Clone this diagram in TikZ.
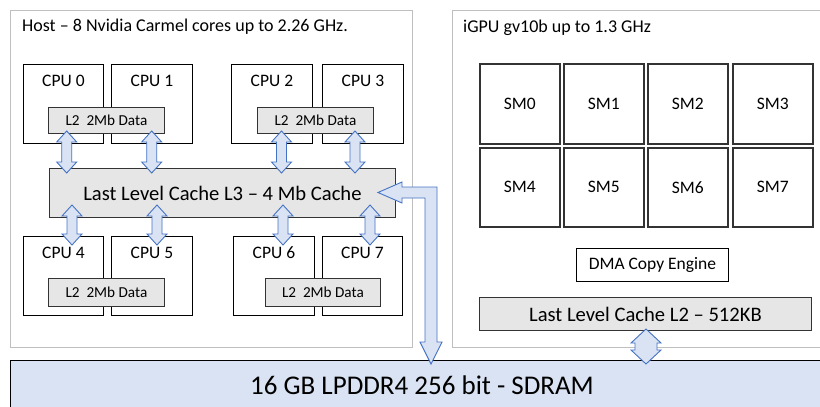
\documentclass[tikz,border=0pt]{standalone}
\usepackage{fontspec}
\setmainfont{Carlito}
\usetikzlibrary{calc}
\definecolor{grayfill}{HTML}{E6E6E6}
\definecolor{framecol}{HTML}{BFBFBF}
\definecolor{memfill}{HTML}{DAE3F3}
\definecolor{arrline}{HTML}{4472C4}
\newcommand{\fsz}[1]{\fontsize{#1}{#1}\selectfont}
% cx, ytop, ybot, shaft half width, head half width, head length
\newcommand{\vdarr}[6]{%
  \draw[blockarr] (#1,#2) -- (#1+#5,#2+#6) -- (#1+#4,#2+#6) -- (#1+#4,#3-#6)
    -- (#1+#5,#3-#6) -- (#1,#3) -- (#1-#5,#3-#6) -- (#1-#4,#3-#6)
    -- (#1-#4,#2+#6) -- (#1-#5,#2+#6) -- cycle;}
\tikzset{
  outer/.style={draw=framecol, line width=1.3pt, fill=white, anchor=north west, inner sep=0},
  cpubox/.style={draw=black, line width=0.9pt, fill=white, anchor=north west, inner sep=0},
  l2box/.style={draw=black!80, line width=0.9pt, fill=grayfill, anchor=north west, inner sep=0},
  smbox/.style={draw=black!80, line width=1.6pt, fill=white, anchor=north west, inner sep=0,
    minimum width=80pt, minimum height=80pt, font=\fsz{17.5}},
  lbl/.style={inner sep=0, text=black},
  blockarr/.style={draw=arrline, line width=0.9pt, fill=memfill, line join=miter},
}
\begin{document}
\begin{tikzpicture}[x=1pt,y=-1pt]
\clip (0,0) rectangle (820,407);
\fill[white] (0,0) rectangle (820,407);

% Host
\node[outer, minimum width=402pt, minimum height=337pt] (host) at (10,10) {};
\node[lbl, anchor=west, font=\fsz{18}] (hosttitle) at (22,27) {Host – 8 Nvidia Carmel cores up to 2.26 GHz.};

\node[cpubox, minimum width=80pt, minimum height=79pt] (cpu0) at (23,64) {};
\node[cpubox, minimum width=81pt, minimum height=79pt] (cpu1) at (111,64) {};
\node[cpubox, minimum width=81pt, minimum height=79pt] (cpu2) at (231,64) {};
\node[cpubox, minimum width=81pt, minimum height=79pt] (cpu3) at (322,64) {};
\node[cpubox, minimum width=80pt, minimum height=79pt] (cpu4) at (23,236) {};
\node[cpubox, minimum width=81pt, minimum height=79pt] (cpu5) at (111,236) {};
\node[cpubox, minimum width=81pt, minimum height=79pt] (cpu6) at (233,236) {};
\node[cpubox, minimum width=80pt, minimum height=79pt] (cpu7) at (322,236) {};

\foreach \n/\t in {cpu0/CPU 0,cpu1/CPU 1,cpu2/CPU 2,cpu3/CPU 3,cpu4/CPU 4,cpu5/CPU 5,cpu6/CPU 6,cpu7/CPU 7}
  \node[lbl, font=\fsz{17.5}] at ($(\n.north)+(0,16.5)$) {\t};

\node[l2box, minimum width=116pt, minimum height=26pt, font=\fsz{15.2}] (l2a) at (48,107) {L2\ \ 2Mb Data};
\node[l2box, minimum width=116pt, minimum height=26pt, font=\fsz{15.2}] (l2b) at (257,107) {L2\ \ 2Mb Data};
\node[l2box, minimum width=116pt, minimum height=28pt, font=\fsz{15.2}] (l2c) at (48,278) {L2\ \ 2Mb Data};
\node[l2box, minimum width=115pt, minimum height=28pt, font=\fsz{15.2}] (l2d) at (265,278) {L2\ \ 2Mb Data};

\node[l2box, minimum width=346pt, minimum height=49pt, font=\fsz{20.6}] (l3) at (49,168) {Last Level Cache L3 – 4 Mb Cache};

% GPU
\node[outer, minimum width=420pt, minimum height=337pt] (gpu) at (452,10) {};
\node[lbl, anchor=west, font=\fsz{18}] (gputitle) at (463,28) {iGPU gv10b up to 1.3 GHz};

\node[smbox] (sm0) at (479,63) {SM0};
\node[smbox] (sm1) at (563,63) {SM1};
\node[smbox] (sm2) at (647,63) {SM2};
\node[smbox] (sm3) at (732,63) {SM3};
\node[smbox, minimum height=79pt] (sm4) at (479,147) {SM4};
\node[smbox, minimum height=79pt] (sm5) at (563,147) {SM5};
\node[smbox, minimum height=79pt] (sm6) at (647,147) {SM6};
\node[smbox, minimum height=79pt] (sm7) at (732,147) {SM7};

\node[cpubox, minimum width=152pt, minimum height=33pt, font=\fsz{17.5}] (dma) at (576,248) {DMA Copy Engine};
\node[l2box, minimum width=332pt, minimum height=33pt, font=\fsz{20.6}] (gl2) at (479,297) {Last Level Cache L2 – 512KB};

% Memory
\node[cpubox, fill=memfill, minimum width=860pt, minimum height=60pt] (mem) at (10,360) {};
\node[lbl, font=\fsz{27}] (memtxt) at (422,385) {16 GB LPDDR4 256 bit - SDRAM};

% arrows L2 -> L3
\vdarr{66.7}{131}{173}{5}{10}{11}
\vdarr{151.7}{131}{173}{5}{10}{11}
\vdarr{281.5}{131}{173}{5}{10}{11}
\vdarr{355}{131}{173}{5}{10}{11}
% arrows L3 -> CPUs
\vdarr{72}{205}{245}{5}{10}{11}
\vdarr{157}{205}{245}{5}{10}{11}
\vdarr{283}{205}{245}{5}{10}{11}
\vdarr{370}{205}{245}{5}{10}{11}
% GPU L2 <-> memory
\vdarr{646}{329}{364}{11}{15}{14}
% L3 <-> memory
\draw[blockarr] (378,192.5) -- (402,182) -- (402,187) -- (437,187) -- (437,342)
  -- (442,342) -- (431,364) -- (420,342) -- (425,342) -- (425,198) -- (402,198)
  -- (402,203) -- cycle;
\end{tikzpicture}
\end{document}
